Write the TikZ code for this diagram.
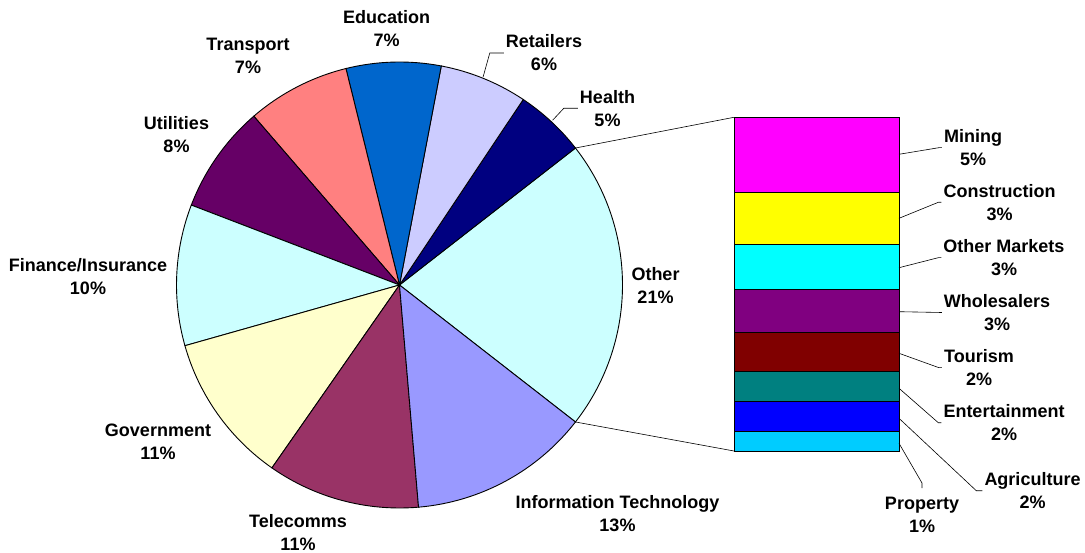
\documentclass[tikz,border=0pt]{standalone}
\usepackage{fontspec}
\setmainfont{Liberation Sans}
\usetikzlibrary{calc}
\definecolor{navyblue}{HTML}{000080}
\definecolor{lavender}{HTML}{CCCCFF}
\definecolor{royal}{HTML}{0066CC}
\definecolor{salmon}{HTML}{FF8080}
\definecolor{plum}{HTML}{660066}
\definecolor{paleaqua}{HTML}{CCFFFF}
\definecolor{paleyellow}{HTML}{FFFFCC}
\definecolor{wine}{HTML}{993366}
\definecolor{periwinkle}{HTML}{9999FF}
\definecolor{magentabar}{HTML}{FF00FF}
\definecolor{yellowbar}{HTML}{FFFF00}
\definecolor{cyanbar}{HTML}{00FFFF}
\definecolor{purplebar}{HTML}{800080}
\definecolor{maroonbar}{HTML}{800000}
\definecolor{tealbar}{HTML}{008080}
\definecolor{bluebar}{HTML}{0000FF}
\definecolor{skybar}{HTML}{00CCFF}
\def\pierad{223}
\def\pieslice[#1](#2:#3){\filldraw[#1] (0,0) -- (#2:\pierad) arc (#2:#3:\pierad) -- cycle;}
\tikzset{
  lbl/.style={font=\bfseries\fontsize{18}{23}\selectfont, align=center, inner sep=2pt},
  lead/.style={line width=0.6pt},
  edge/.style={line width=0.9pt, draw=black}
}

\begin{document}
\begin{tikzpicture}[x=1pt,y=-1pt]
				\useasboundingbox (0,0) rectangle (1085,553);
				
				% pie
				\begin{scope}[shift={(399.5,285)},yscale=-1]
				\pieslice[edge,fill=paleaqua](-37.9:37.9);
				\pieslice[edge,fill=navyblue](37.9:56.3);
				\pieslice[edge,fill=lavender](56.3:79.2);
				\pieslice[edge,fill=royal](79.2:103.9);
				\pieslice[edge,fill=salmon](103.9:130.8);
				\pieslice[edge,fill=plum](130.8:159);
				\pieslice[edge,fill=paleaqua](159:195.8);
				\pieslice[edge,fill=paleyellow](195.8:235.1);
				\pieslice[edge,fill=wine](235.1:274.9);
				\pieslice[edge,fill=periwinkle](274.9:322.1);
				\coordinate (otop) at (37.9:\pierad);
				\coordinate (obot) at (-37.9:\pierad);
				\coordinate (rt) at (68.1:224);
				\coordinate (hl) at (47.1:225);
				\end{scope}
				
				% bar of the other sectors
				\draw[edge,fill=magentabar] (734,117.3) rectangle (899,192.7);
				\draw[edge,fill=yellowbar] (734,192.7) rectangle (899,244);
				\draw[edge,fill=cyanbar] (734,244) rectangle (899,289.3);
				\draw[edge,fill=purplebar] (734,289.3) rectangle (899,332.3);
				\draw[edge,fill=maroonbar] (734,332.3) rectangle (899,371.7);
				\draw[edge,fill=tealbar] (734,371.7) rectangle (899,401.7);
				\draw[edge,fill=bluebar] (734,401.7) rectangle (899,431.7);
				\draw[edge,fill=skybar] (734,431.7) rectangle (899,451);
				\coordinate (btop) at (734,117.3);
				\coordinate (bbot) at (734,451);
				\draw[lead] (otop) -- (btop);
				\draw[lead] (obot) -- (bbot);
				
				% pie labels
				\node[lbl] (educ) at (386.7,28.3) {Education\\7\%};
				\node[lbl] (transp) at (248,55.5) {Transport\\7\%};
				\node[lbl] (retail) at (544,53) {Retailers\\6\%};
				\node[lbl] (health) at (607.5,108.3) {Health\\5\%};
				\node[lbl] (util) at (176.5,135) {Utilities\\8\%};
				\node[lbl] (finance) at (88,277) {Finance/Insurance\\10\%};
				\node[lbl] (other) at (655.5,285.7) {Other\\21\%};
				\node[lbl] (govt) at (158,441.5) {Government\\11\%};
				\node[lbl] (telecom) at (298,533) {Telecomms\\11\%};
				\node[lbl] (itech) at (617.5,513.3) {Information Technology\\13\%};
				\draw[lead] (rt) -- ($(retail.west)+(-14,0)$) -- (retail.west);
				\draw[lead] (hl) -- ($(health.west)+(-14,0)$) -- (health.west);
				
				% bar labels
				\node[lbl] (mining) at (973,147.7) {Mining\\5\%};
				\node[lbl] (constr) at (999.5,202.3) {Construction\\3\%};
				\node[lbl] (othmkt) at (1004,257.7) {Other Markets\\3\%};
				\node[lbl] (whole) at (997,312.5) {Wholesalers\\3\%};
				\node[lbl] (tour) at (979,367.7) {Tourism\\2\%};
				\node[lbl] (enter) at (1004,422.7) {Entertainment\\2\%};
				\node[lbl] (agri) at (1032.5,490.7) {Agriculture\\2\%};
				\node[lbl] (prop) at (922,515) {Property\\1\%};
				
				\coordinate (mi) at (899,154.3);
				\coordinate (co) at (899,218.3);
				\coordinate (om) at (899,267.7);
				\coordinate (wh) at (899,311.7);
				\coordinate (to) at (899,353.3);
				\coordinate (en) at (899,388.3);
				\coordinate (ag) at (899,418.3);
				\coordinate (pr) at (899,443.3);
				\draw[lead] (mi) -- ($(mining.west)+(-3,0)$) -- (mining.west);
				\draw[lead] (co) -- ($(constr.west)+(-3,0)$) -- (constr.west);
				\draw[lead] (om) -- ($(othmkt.west)+(-3,0)$) -- (othmkt.west);
				\draw[lead] (wh) -- (whole.west);
				\draw[lead] (to) -- ($(tour.west)+(-3,0)$) -- (tour.west);
				\draw[lead] (en) -- ($(enter.west)+(-3,0)$) -- (enter.west);
				\draw[lead] (ag) -- ($(agri.west)+(-6,0)$) -- (agri.west);
				\draw[lead] (pr) -- ($(prop.north)+(0,-12)$) -- ($(prop.north)+(0,-7)$);
			\end{tikzpicture}
\end{document}
